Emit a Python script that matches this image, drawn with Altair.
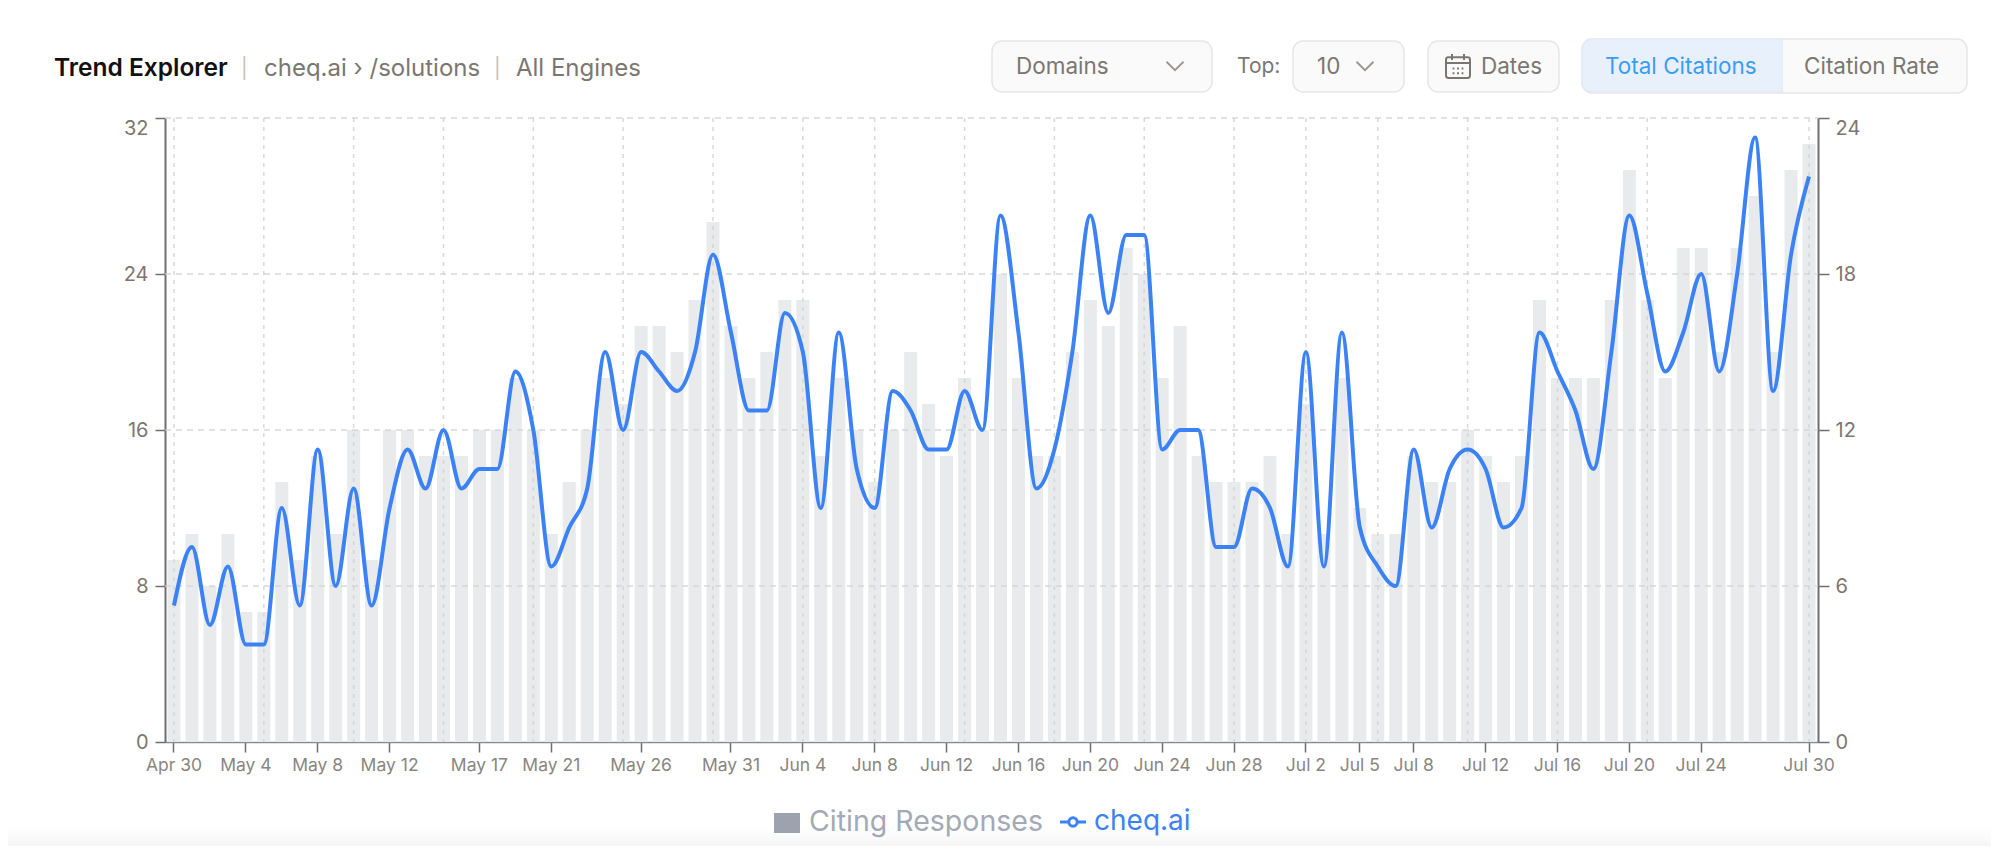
import altair as alt
import pandas as pd

days = (
    ["Apr 30"]
    + [f"May {d}" for d in range(1, 32)]
    + [f"Jun {d}" for d in range(1, 31)]
    + [f"Jul {d}" for d in range(1, 31)]
)
citing_responses = [
    7, 8, 6, 8, 5, 5, 10, 7, 11, 8, 12, 7, 12, 12, 11, 11, 11, 12, 12, 14, 12, 8, 10, 12,
    14, 13, 16, 16, 15, 17, 20, 16, 14, 15, 17, 17, 11, 14, 12, 10, 12, 15, 13, 11, 14, 12,
    18, 14, 11, 11, 15, 17, 16, 19, 18, 14, 16, 11, 10, 10, 10, 11, 8, 13, 8, 14, 9, 8, 8,
    11, 10, 10, 12, 11, 10, 11, 17, 14, 14, 14, 17, 22, 17, 14, 19, 19, 15, 19, 21, 15, 22, 23,
]
cheq_ai = [
    7, 10, 6, 9, 5, 5, 12, 7, 15, 8, 13, 7, 12, 15, 13, 16, 13, 14, 14, 19, 16, 9, 11, 13,
    20, 16, 20, 19, 18, 20, 25, 21, 17, 17, 22, 20, 12, 21, 14, 12, 18, 17, 15, 15, 18, 16,
    27, 21, 13, 15, 20, 27, 22, 26, 26, 15, 16, 16, 10, 10, 13, 12, 9, 20, 9, 21, 11, 9, 8,
    15, 11, 14, 15, 14, 11, 12, 21, 19, 17, 14, 20, 27, 23, 19, 21, 24, 19, 24, 31, 18, 25, 29,
]
tick_labels = [
    "Apr 30", "May 4", "May 8", "May 12", "May 17", "May 21", "May 26", "May 31", "Jun 4",
    "Jun 8", "Jun 12", "Jun 16", "Jun 20", "Jun 24", "Jun 28", "Jul 2", "Jul 5", "Jul 8",
    "Jul 12", "Jul 16", "Jul 20", "Jul 24", "Jul 30",
]
grid_days = [
    "Apr 30", "May 5", "May 10", "May 15", "May 20", "May 25", "May 30", "Jun 4", "Jun 8",
    "Jun 13", "Jun 18", "Jun 23", "Jun 28", "Jul 2", "Jul 6", "Jul 11", "Jul 16", "Jul 21", "Jul 30",
]
left_ticks = [0, 8, 16, 24, 32]
right_ticks = [0, 6, 12, 18, 24]
grid_values = [8, 16, 24, 32]

FONT = "Inter"
GREY_TEXT = "#7c7670"
PAD_L, PAD_T = 157, 110
ORIGIN_X, ORIGIN_Y = PAD_L + 8, PAD_T + 8
W, H = 1653, 624
PAD_R = 1983 - PAD_L - W
PAD_B = 838 - PAD_T - H

one = pd.DataFrame({"a": [0]})
df = pd.DataFrame({"day": days, "bar": citing_responses, "line": cheq_ai})
x_scale = alt.Scale(domain=days, paddingInner=0, paddingOuter=0)
x_axis = alt.Axis(
    values=tick_labels, labelAngle=0, labelOverlap=False, labelFont=FONT, labelFontSize=17.5,
    labelColor="#8a8580", labelPadding=4, tickSize=10, tickColor="#6f6f6f", tickWidth=1.5,
    domainColor="#8a8a8a", domainWidth=1.5, grid=False, title=None,
)
x_enc = alt.X("day:N", scale=x_scale, sort=None, axis=x_axis)


def text(s, x, y, size=22.5, color=GREY_TEXT, weight=400, align="left"):
    return alt.Chart(one).mark_text(
        text=s, font=FONT, fontSize=size, color=color, fontWeight=weight, align=align, baseline="middle"
    ).encode(x=alt.value(x - ORIGIN_X), y=alt.value(y - ORIGIN_Y))


def box(x0, x1, y0, y1, fill="#fafafa", stroke="#e6e6e6", radius=10, **kw):
    opts = dict(fill=fill, stroke=stroke, strokeWidth=1.5)
    if radius:
        opts["cornerRadius"] = radius
    opts.update(kw)
    return alt.Chart(one).mark_rect(**opts).encode(
        x=alt.value(x0 - ORIGIN_X), x2=alt.value(x1 - ORIGIN_X),
        y=alt.value(y0 - ORIGIN_Y), y2=alt.value(y1 - ORIGIN_Y),
    )


def icon(path, x, y, s, color=GREY_TEXT, width=1.8):
    return alt.Chart(one).mark_point(
        shape=path, size=s * s, filled=False, stroke=color, strokeWidth=width, opacity=1
    ).encode(x=alt.value(x - ORIGIN_X), y=alt.value(y - ORIGIN_Y))


CHEVRON = "M-1,-0.5L0,0.5L1,-0.5"
CALENDAR = (
    "M-0.8,-0.72H0.8Q1,-0.72 1,-0.52V0.8Q1,1 0.8,1H-0.8Q-1,1 -1,0.8V-0.52Q-1,-0.72 -0.8,-0.72Z"
    "M-1,-0.25H1M-0.5,-1V-0.5M0.5,-1V-0.5"
    "M-0.45,0.2H-0.3M-0.08,0.2H0.08M0.3,0.2H0.45M-0.45,0.6H-0.3M-0.08,0.6H0.08M0.3,0.6H0.45"
)

fade = alt.Chart(one).mark_rect(
    color=alt.Gradient(
        gradient="linear", x1=0, x2=0, y1=0, y2=1,
        stops=[alt.GradientStop(color="#ffffff", offset=0), alt.GradientStop(color="#f6f6f6", offset=1)],
    )
).encode(x=alt.value(-PAD_L), x2=alt.value(W + PAD_R), y=alt.value(826 - ORIGIN_Y), y2=alt.value(846 - ORIGIN_Y))

ui = [
    fade,
    text("Trend Explorer", 54, 69, size=24.5, color="#111111", weight=600),
    text("|", 241, 69, size=20, color="#c4c0ba"),
    text("cheq.ai › /solutions", 264, 69, size=24),
    text("|", 494, 69, size=20, color="#c4c0ba"),
    text("All Engines", 516, 69, size=24),
    box(992, 1212, 41, 92),
    text("Domains", 1016, 67),
    icon(CHEVRON, 1175, 66, 17, color="#9a9590"),
    text("Top:", 1237, 67, size=21),
    box(1293, 1404, 41, 92),
    text("10", 1317, 67),
    icon(CHEVRON, 1365, 66, 17, color="#9a9590"),
    box(1428, 1559, 41, 92),
    icon(CALENDAR, 1458, 66, 24, width=2),
    text("Dates", 1481, 67),
    box(1582, 1967, 39, 93),
    box(1582, 1782, 39, 92, fill="#e8f1fb", stroke="#e3ebf5", radius=0,
        cornerRadiusTopLeft=10, cornerRadiusBottomLeft=10),
    text("Total Citations", 1605, 67, color="#3b9cf6"),
    text("Citation Rate", 1804, 67),
]

bars = alt.Chart(df).mark_bar(size=13, color="#e8eaec").encode(
    x=x_enc,
    y=alt.Y(
        "bar:Q", scale=alt.Scale(domain=[0, 24], nice=False), title=None,
        axis=alt.Axis(
            orient="right", values=right_ticks, labelFont=FONT, labelFontSize=20, labelColor=GREY_TEXT,
            labelPadding=6, tickSize=11, tickColor="#6f6f6f", tickWidth=1.5, domainColor="#6f6f6f",
            domainWidth=2, grid=False,
            labelBaseline={"condition": {"test": "datum.value == 24", "value": "top"}, "value": "middle"},
        ),
    ),
)

v_grid = alt.Chart(pd.DataFrame({"day": grid_days})).mark_rule(
    color="#d2d2d2", strokeWidth=1.5, strokeDash=[4, 5], opacity=0.85
).encode(
    x=x_enc,
    y=alt.value(0), y2=alt.value(H),
)
h_grid = alt.Chart(pd.DataFrame({"v": grid_values})).mark_rule(
    color="#d2d2d2", strokeWidth=1.5, strokeDash=[6, 5], opacity=0.85
).encode(
    y=alt.Y("v:Q", scale=alt.Scale(domain=[0, 32], nice=False), axis=None),
    x=alt.value(0), x2=alt.value(W),
)

line = alt.Chart(df).mark_line(color="#3b82f6", strokeWidth=4, interpolate="monotone").encode(
    x=x_enc,
    y=alt.Y(
        "line:Q", scale=alt.Scale(domain=[0, 32], nice=False), title=None,
        axis=alt.Axis(
            orient="left", values=left_ticks, labelFont=FONT, labelFontSize=20, labelColor=GREY_TEXT,
            labelPadding=7, tickSize=10, tickColor="#6f6f6f", tickWidth=1.5, domainColor="#6f6f6f",
            domainWidth=2, grid=False,
            labelBaseline={"condition": {"test": "datum.value == 32", "value": "top"}, "value": "middle"},
        ),
    ),
)

legend = [
    box(774, 800, 813, 833, fill="#9ca3af", stroke="#9ca3af", radius=0, strokeWidth=0),
    text("Citing Responses", 809, 822, size=28.5, color="#a3a9b5"),
    alt.Chart(one).mark_rule(color="#3b82f6", strokeWidth=3).encode(
        x=alt.value(1060 - ORIGIN_X), x2=alt.value(1086 - ORIGIN_X), y=alt.value(822 - ORIGIN_Y)
    ),
    alt.Chart(one).mark_point(size=70, filled=True, fill="#ffffff", stroke="#3b82f6", strokeWidth=3, opacity=1).encode(
        x=alt.value(1073 - ORIGIN_X), y=alt.value(822 - ORIGIN_Y)
    ),
    text("cheq.ai", 1094, 822, size=28, color="#3b82f6"),
]

chart = alt.layer(*ui, bars, h_grid, v_grid, line, *legend).resolve_scale(y="independent").properties(
    width=W,
    height=H,
    padding={"left": PAD_L, "top": PAD_T, "right": PAD_R, "bottom": PAD_B},
    autosize=alt.AutoSizeParams(type="none"),
    background="#ffffff",
).configure_view(stroke=None)

chart.save("out.html", embed_options={"renderer": "svg", "actions": False})
